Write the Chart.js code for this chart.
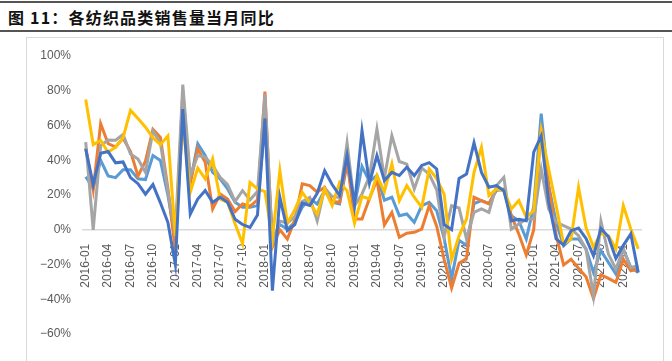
<!DOCTYPE html>
<html lang="zh">
<head>
  <meta charset="utf-8">
  <title>各纺织品类销售量当月同比</title>
  <script src="https://cdn.jsdelivr.net/npm/chart.js"></script>
  <style>
    html, body { margin: 0; padding: 0; background: #fff; }
    body { width: 672px; height: 361px; position: relative; overflow: hidden; }
    .topline { position: absolute; left: 0; top: 1px; width: 672px; height: 2px; background: #555; }
    .caption { position: absolute; left: 8px; top: 5px; font-family: "Noto Sans CJK SC", sans-serif; font-weight: bold; font-size: 16px; letter-spacing: 1.2px; color: #111; white-space: nowrap; }
    .rule { position: absolute; left: 0; top: 30px; width: 672px; height: 2px; background: #555; }
    .frame { position: absolute; left: 26px; top: 37px; width: 636px; height: 340px; border: 1px solid #d9d9d9; pointer-events: none; }
    #chart { position: absolute; left: 0; top: 0; }
  </style>
</head>
<body>
<div class="topline"></div>
<div class="caption">图 11：各纺织品类销售量当月同比</div>
<div class="rule"></div>
<div class="frame"></div>
<canvas id="chart" width="672" height="361"></canvas>

<script>
  // months 2016-01 .. 2022-03
  const months = [
    '2016-01','2016-02','2016-03','2016-04','2016-05','2016-06','2016-07','2016-08','2016-09','2016-10','2016-11','2016-12',
    '2017-01','2017-02','2017-03','2017-04','2017-05','2017-06','2017-07','2017-08','2017-09','2017-10','2017-11','2017-12',
    '2018-01','2018-02','2018-03','2018-04','2018-05','2018-06','2018-07','2018-08','2018-09','2018-10','2018-11','2018-12',
    '2019-01','2019-02','2019-03','2019-04','2019-05','2019-06','2019-07','2019-08','2019-09','2019-10','2019-11','2019-12',
    '2020-01','2020-02','2020-03','2020-04','2020-05','2020-06','2020-07','2020-08','2020-09','2020-10','2020-11','2020-12',
    '2021-01','2021-02','2021-03','2021-04','2021-05','2021-06','2021-07','2021-08','2021-09','2021-10','2021-11','2021-12',
    '2022-01','2022-02','2022-03'
  ];

  // year-on-year %
  const lightBlue = [
    30.5, 24, 40, 31, 30, 34.5, 34.5, 29.3, 28.9, 42.7, 39.9, 20,
    -5, 66, 27.4, 49.5, 42.7, 33, 29.3, 23.5, 15.8, 12.9, 12.9, 13.9,
    62, -5, 3, 0.4, 4.3, 13, 18, 14.8, 22.5, 15.8, 14.8, 38,
    14, 36.5, 27.8, 31.2, 17, 18.7, 8.1, 9.1, 4.3, 13.9, 15.8, 11,
    -5, -28, -6, -9, 15, 16.8, 15, 22.6, 23.5, 8, 5.2, -5.3,
    13.5, 66.8, 25.4, 4.3, -9.2, -5.3, -5.3, -11.1, -24.6, -12, -18.8, -25.5,
    -11.1, -21.7, -24.6
  ];
  const orange = [
    47, 23, 61, 49.5, 47.6, 52.7, 45, 31, 39.5, 57.8, 53.2, 24,
    -12, 80, 27, 46.6, 38.9, 12, 20.6, 17.7, 10.5, 14.8, 13.5, 17.2,
    79.5, -10, 0, -5.3, 5.7, 26.4, 25.4, 21.6, 24.4, 16.2, 15.8, 40,
    6.2, 6.2, 18, 28.8, 2.8, 10, -4.4, -2, -1.5, 0.4, 13.9, 2,
    -17, -33.5, -19.3, -16.5, 18.7, 16.8, 14.9, 23.5, 22.6, 8.1, -2.4, -14.5,
    0, 59, 25, -3, -20.3, -17, -22.2, -27, -39.5, -26, -28, -30.3,
    -17, -23.6, -22.6
  ];
  const gray = [
    50.4, 0, 48.5, 51.6, 51.5, 54.8, 43.6, 40.7, 33, 56.8, 50, 22,
    -2, 83.5, 31, 42.7, 41.8, 37, 30.2, 26, 16.3, 22.5, 17.2, 22,
    78, -8, 5, 3.8, 7.5, 16.2, 18.6, 5.2, 24, 19.2, 18.6, 50,
    13.8, 20.6, 30.7, 58, 29.7, 54.2, 39.3, 37.8, 23.5, 35.5, 32, 23,
    -4, 13.9, 12.5, -5.3, 10, 12, 10, 25.4, 30.2, 0.4, 3.3, 6.2,
    6.2, 35, 12, 4.3, 2.4, 0.4, -3.4, -11.1, -38, 5, -14, -22.6,
    -11.1, -21.7, -20.7
  ];
  const yellow = [
    75, 49, 51.4, 44.6, 47.5, 53, 68.7, 64, 59, 53, 49, 54,
    -3.5, 62, 21.6, 35.5, 29.3, 40.8, 17.7, 15.8, 3.5, -8, 27.2, 23.5,
    22, -5.2, 34, 3.8, 11.5, 21.5, 15.4, 9, 23.5, 13.9, 27.2, 22.5,
    3.8, 19.2, 17.7, 31.2, 22, 38, 16.7, 25.4, 18.7, 12.9, 35, 29.5,
    20.5, -17, -3.5, 6.2, 33, 47.5, 19.7, 23.5, 22.5, 12, 16.8, 7.2,
    11, 57, 35, 13.9, -8.2, -5.2, 24.4, 1.3, -10, -2, -3.5, -11,
    13.9, 0.4, -11
  ];
  const darkBlue = [
    46.5, 26, 44, 45, 38.5, 39, 30, 26.5, 20.5, 26, 15.5, 4.3,
    -20, 69.5, 9, 17.7, 22.6, 15.8, 18.7, 15.8, 6, 3, 1.3, 8.5,
    64, -35, 18.7, -0.5, 3, 15.3, 14, 21, 34, 26, 19.7, 42.7,
    14.3, 57, 26.8, 42.7, 28.3, 33, 31.2, 36, 31.2, 37, 38.6, 35,
    3, 0, 29.5, 32, 50, 33, 24.5, 25.4, 22.5, 5.2, 6, 5.2,
    44.7, 54, 16, -5.3, -8.7, -0.5, 1, -5, -15, 0.7, -4, -16.5,
    -9, -2.4, -24.6
  ];

  const yTicks = [-60, -40, -20, 0, 20, 40, 60, 80, 100];

  function line(data, color) {
    return {
      data: data,
      borderColor: color,
      backgroundColor: color,
      borderWidth: 3,
      pointRadius: 0,
      tension: 0,
      fill: false
    };
  }

  // first dataset is painted on top, so dark blue goes first
  const ctx = document.getElementById('chart').getContext('2d');
  new Chart(ctx, {
    type: 'line',
    data: {
      labels: months,
      datasets: [
        line(darkBlue, '#4472C4'),
        line(yellow, '#FFC000'),
        line(gray, '#A5A5A5'),
        line(orange, '#ED7D31'),
        line(lightBlue, '#5B9BD5')
      ]
    },
    options: {
      responsive: false,
      animation: false,
      layout: { padding: { left: 22, right: 30, top: 56, bottom: 27 } },
      plugins: {
        legend: { display: false },
        tooltip: { enabled: false }
      },
      scales: {
        x: {
          position: { y: 0 },
          offset: true,
          grid: { display: false },
          border: { display: false },
          ticks: {
            autoSkip: false,
            minRotation: 90,
            maxRotation: 90,
            padding: 6,
            color: '#595959',
            font: { family: 'Liberation Sans', size: 12 },
            callback: function(v, i) { return i % 3 === 0 ? months[i] : null; }
          }
        },
        y: {
          min: yTicks[0],
          max: yTicks[yTicks.length - 1],
          afterFit: function(s) { s.width = 60; },
          afterBuildTicks: function(s) { s.ticks = yTicks.map(v => ({ value: v })); },
          grid: {
            drawTicks: false,
            lineWidth: 1.5,
            color: c => c.tick && c.tick.value === 0 ? '#d9d9d9' : 'rgba(0,0,0,0)'
          },
          border: { display: false },
          ticks: {
            padding: 11,
            color: '#595959',
            font: { family: 'Liberation Sans', size: 12 },
            callback: v => (v < 0 ? '\u2212' + (-v) : v) + '%'
          }
        }
      }
    }
  });
</script>
</body>
</html>
